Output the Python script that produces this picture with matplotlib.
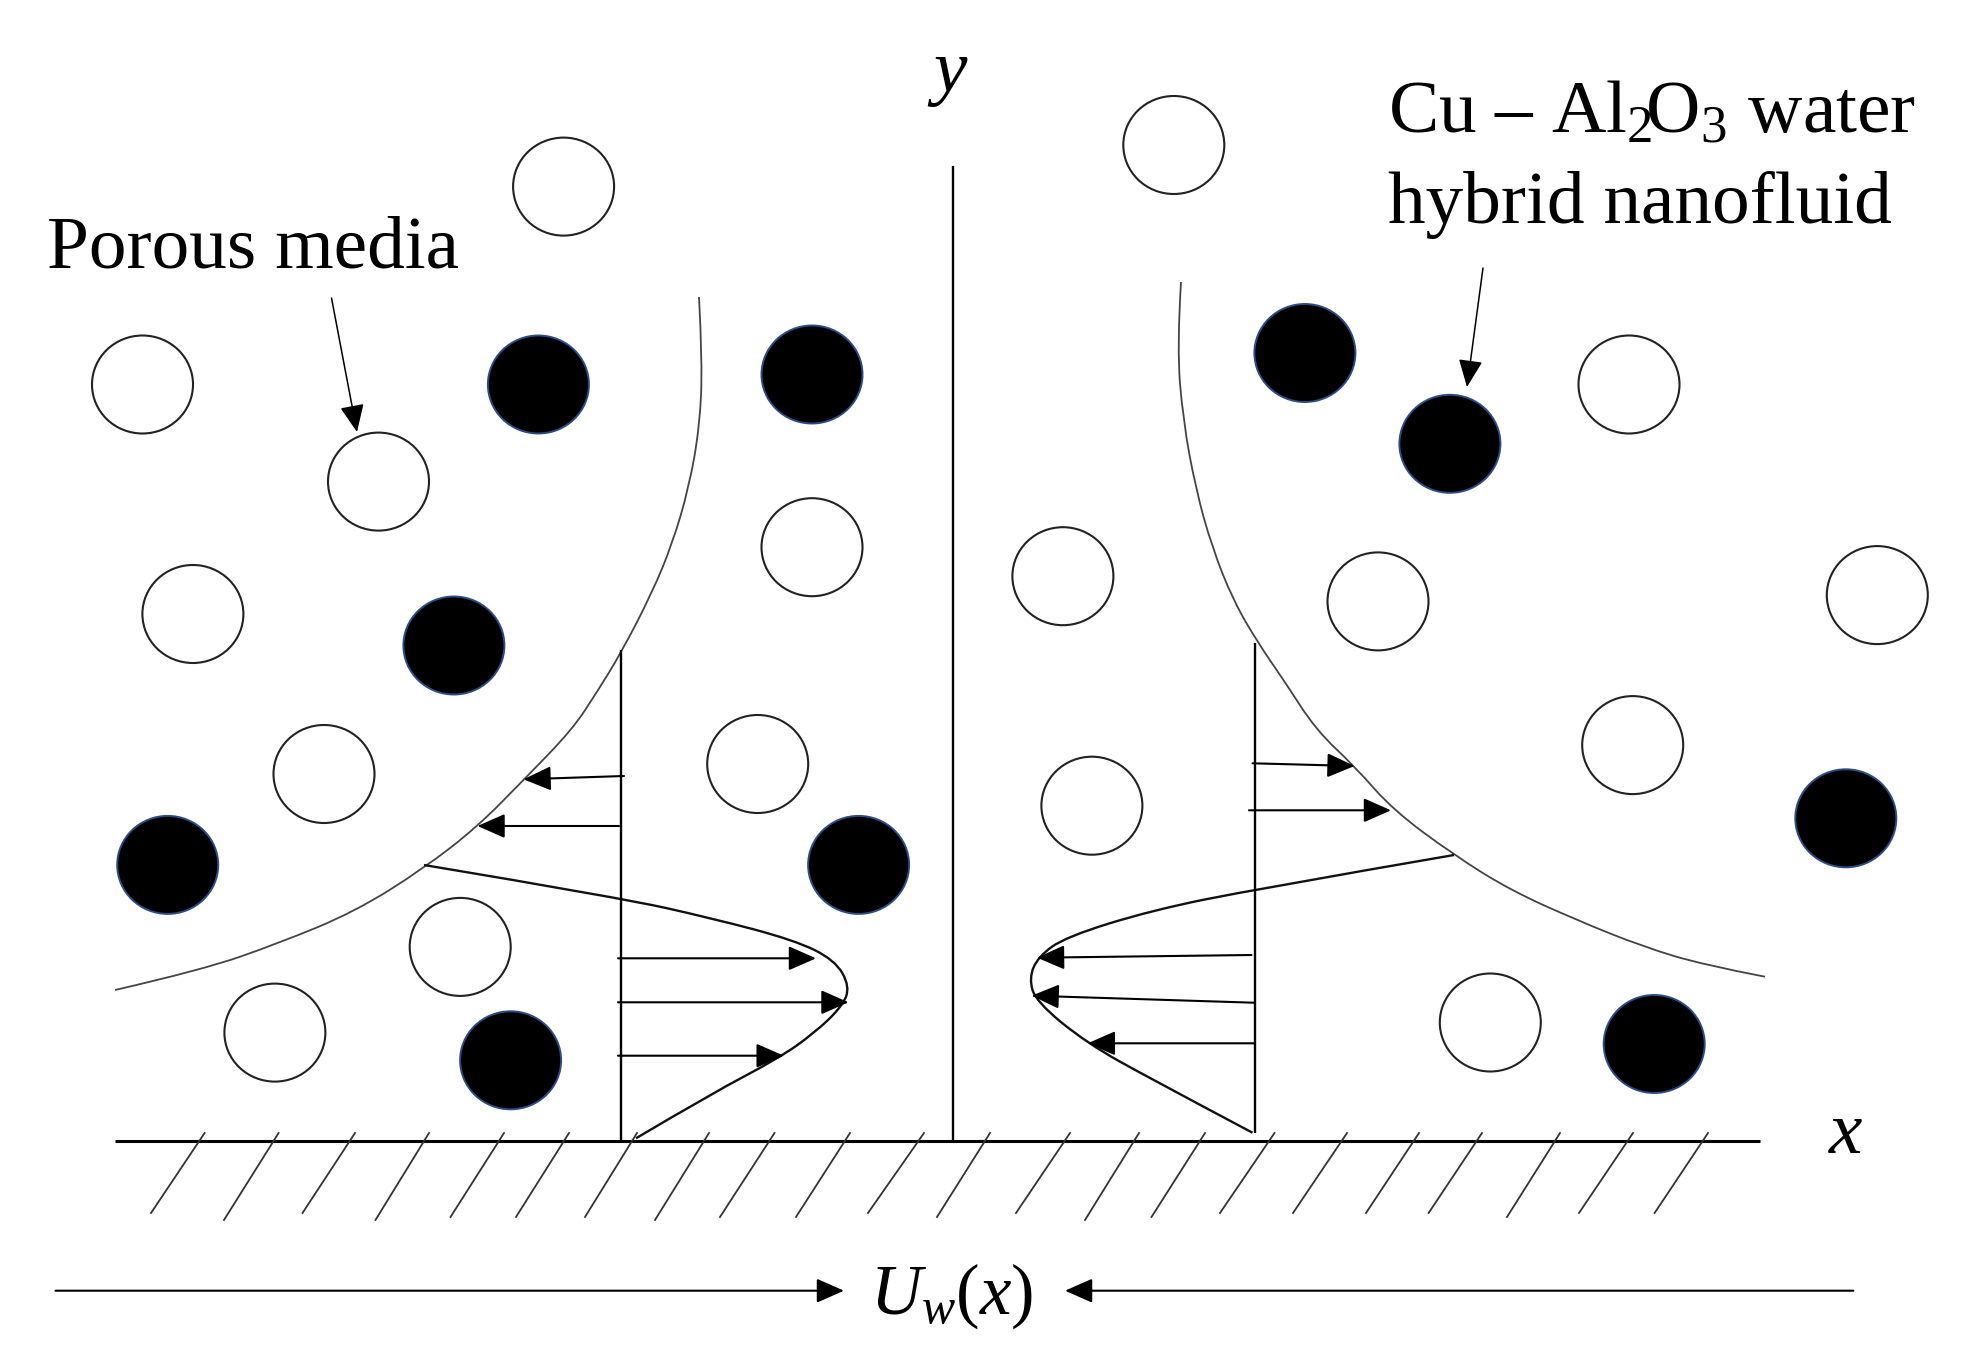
import matplotlib
matplotlib.use("Agg")
import matplotlib.pyplot as plt
from matplotlib.patches import Ellipse, PathPatch
from matplotlib.path import Path

plt.rcParams['font.family'] = ['Liberation Serif', 'DejaVu Serif']
plt.rcParams['mathtext.fontset'] = 'custom'
plt.rcParams['mathtext.rm'] = 'Liberation Serif'
plt.rcParams['mathtext.it'] = 'Liberation Serif:italic'
plt.rcParams['mathtext.bf'] = 'Liberation Serif:bold'

open_particles = [(563.6,186.6),(1173.8,145),(142.5,384.5),(378.5,481.6),(192.9,614),(324,774),(460.2,946.9),
                  (274.9,1032.6),(812,547.2),(757.7,764),(1062.9,576.2),(1091.9,805.7),(1378,601.4),(1629,384.5),
                  (1877.3,595.1),(1632.7,745.1),(1490.3,1022.5)]
filled_particles = [(538.4,384.5),(812,374.5),(453.9,645.5),(167.7,864.9),(858.6,864.9),(510.6,1060.3),(1304.9,353),
                    (1449.9,443.8),(1845.8,818.3),(1654.2,1044)]

left_boundary = [(699,297),(702.5,363),(699.6,427),(689,487),(672.6,543),(652,593),(621,653),(597,692),(572,730),
                 (523.5,780),(477.5,826.7),(424,868.3),(355,911.7),(278.6,943.3),(202,970),(115,990)]
right_boundary = [(1181,282),(1177,347),(1183,420),(1196,490),(1212,547),(1233,600),(1258,643),(1285,682),(1316,730),
                  (1355,766.7),(1393,810),(1454,855),(1510,890),(1576.5,920),(1643,946.7),(1704,965),(1765,976.7)]
left_profile = [(424,865),(620,897.7),(712,918.3),(794,940),(835,960),(850,986.7),(842,1006.7),(814,1033.3),
                (778.6,1058.3),(712,1093.3),(636,1138.3)]
right_profile = [(1454,855),(1255,889.3),(1153,910),(1066,936.7),(1038,956.7),(1029,978.3),(1036,1001.7),
                 (1087,1043.3),(1153,1080),(1252.5,1132.7)]

hatch_top_x = [204.6,278.6,355,429,504,569,637,709,774.5,850,924,990,
               1070,1139,1205,1274.5,1347,1419,1482,1560,1633,1708]
hatch_bottom_x = [151,224,302.5,375.5,450.5,516,585,655,720,796,868,937,
                  1016,1085,1151.5,1220,1293,1366,1428.6,1507,1579,1654.6]
hatch_bottom_y = [1213,1220,1213,1220,1217,1217,1217,1220,1217,1217,1213,1217,
                  1213,1220,1217,1213,1213,1213,1213,1217,1213,1213]

velocity_arrows = [((624,776),(523.5,779.3)),((619,826),(477.5,826)),((618,958.3),(816,958.3)),
                   ((618,1002.3),(848.5,1002.3)),((618,1055.7),(783.7,1055.7)),((1252.5,763.3),(1354.6,766)),
                   ((1249,810.3),(1391,810.3)),((1251.5,955),(1037,957.7)),((1253.6,1002.7),(1031.6,995.7)),
                   ((1253.6,1043.3),(1087.8,1043.3))]
pointer_arrows = [((331.5,298),(357,432)),((1483,268),(1467,387))]
wall_arrows = [((55.5,1290.7),(844,1290.7)),((1853.4,1290.7),(1065,1290.7))]

straight_lines = [((953,166.4),(953,1140.7)),((620.5,650),(620.5,1140.7)),((1255,643),(1255,1132.7))]
wall = ((115,1140.7),(1760,1140.7))

fig = plt.figure(figsize=(19.77,13.67), dpi=100, facecolor='white')
ax = fig.add_axes([0,0,1,1])
ax.set_xlim(0,1977); ax.set_ylim(1367,0); ax.axis('off')

for c in open_particles:
    ax.add_patch(Ellipse(c,101,98,facecolor='none',edgecolor='#222222',lw=1.5))
for c in filled_particles:
    ax.add_patch(Ellipse(c,101,98,facecolor='black',edgecolor='#2b4c86',lw=1.4))

def smooth(pts, lw, color='#333333'):
    verts=[pts[0]]; codes=[Path.MOVETO]
    for i in range(1,len(pts)-1):
        mid=((pts[i][0]+pts[i+1][0])/2,(pts[i][1]+pts[i+1][1])/2)
        if i==len(pts)-2: mid=pts[-1]
        verts+= [pts[i],mid]; codes+=[Path.CURVE3,Path.CURVE3]
    ax.add_patch(PathPatch(Path(verts,codes),facecolor='none',edgecolor=color,lw=lw))

smooth(left_boundary,1.3,'#444444'); smooth(right_boundary,1.3,'#444444')
smooth(left_profile,1.7,'#111111'); smooth(right_profile,1.7,'#111111')

for a,b in straight_lines:
    ax.plot([a[0],b[0]],[a[1],b[1]],color='black',lw=1.7,solid_capstyle='butt')
ax.plot([wall[0][0],wall[1][0]],[wall[0][1],wall[1][1]],color='black',lw=2.2,solid_capstyle='butt')
for tx,bx,by in zip(hatch_top_x,hatch_bottom_x,hatch_bottom_y):
    ax.plot([tx,bx],[1133,by],color='#333333',lw=1.3)

def arrow(a,b,lw=1.5,color='#333333'):
    ax.annotate('',xy=b,xytext=a,arrowprops=dict(
        arrowstyle='-|>,head_length=1.7,head_width=0.75',mutation_scale=10,
        shrinkA=0,shrinkB=0,lw=lw,color=color,fc='black',ec='black'))
for a,b in velocity_arrows: arrow(a,b)
for a,b in pointer_arrows: arrow(a,b,lw=1.1)
for a,b in wall_arrows: arrow(a,b)

FS=54.2
ax.text(47,268,'Porous media',fontsize=FS,ha='left',va='baseline',color='black')
ax.text(1388,132,r'Cu – Al$_{2}\!$O$_{3}$ water',fontsize=FS,ha='left',va='baseline',color='black')
ax.text(1388,223,'hybrid nanofluid',fontsize=FS,ha='left',va='baseline',color='black')
ax.text(950,91,'y',fontsize=FS,style='italic',ha='center',va='baseline',color='black')
ax.text(1846,1153,'x',fontsize=FS,style='italic',ha='center',va='baseline',color='black')
ax.text(870,1314,r'$\mathit{U_{w}(x)}$',fontsize=51,ha='left',va='baseline',color='black')

fig.savefig('out.png',dpi=100,facecolor='white')
